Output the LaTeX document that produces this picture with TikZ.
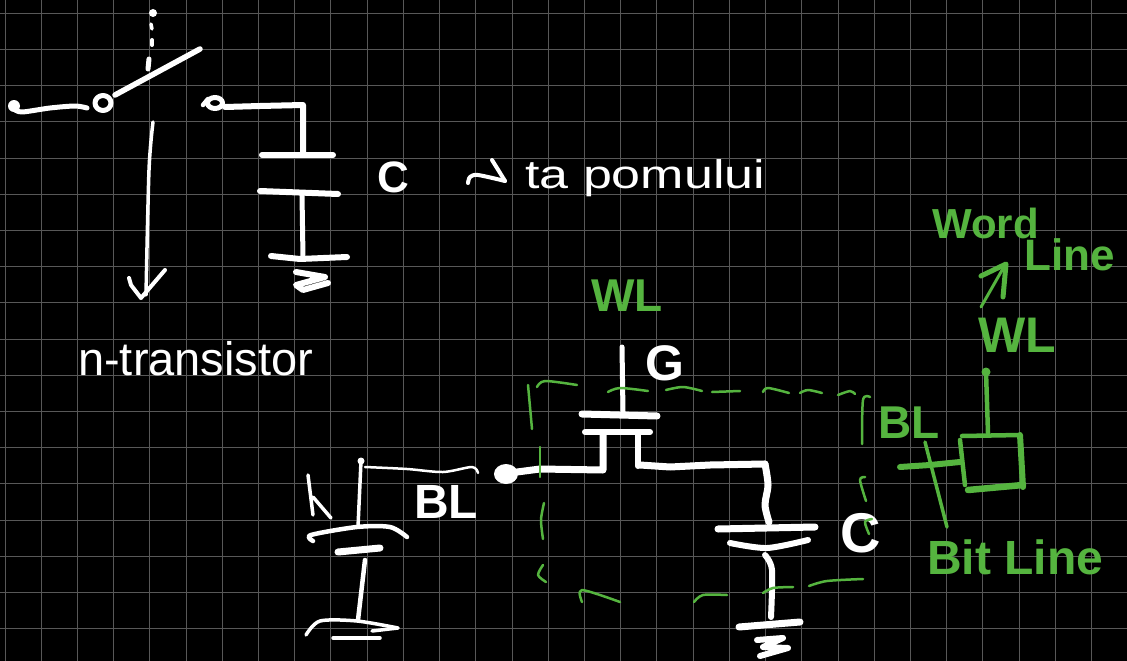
\documentclass[tikz,border=0pt]{standalone}
\usepackage{fontspec}
\setmainfont{Liberation Sans}
\definecolor{penGreen}{HTML}{55B43F}
\definecolor{gridGray}{HTML}{585858}
\tikzset{
  chalk/.style={white, line width=#1, line cap=round, line join=round},
  chalk/.default=5,
  marker/.style={penGreen, line width=#1, line cap=round, line join=round},
  marker/.default=2.5,
  chalkText/.style={white, anchor=base west, inner sep=0pt},
  markerText/.style={penGreen, anchor=base west, inner sep=0pt},
}
\newcommand{\penFont}[1]{\fontsize{#1}{#1}\selectfont}
\begin{document}
\begin{tikzpicture}[x=1pt,y=-1pt]
\useasboundingbox (0,0) rectangle (1127,661);
\fill[black] (0,0) rectangle (1127,661);

% squared paper
\foreach \i in {0,...,31}
  \draw[gridGray, line width=1] ({5+36.22*\i},0) -- ({5+36.22*\i},661);
\foreach \j in {0,...,17}
  \draw[gridGray, line width=1] (0,{13.3+36.2*\j}) -- (1127,{13.3+36.2*\j});

% switch
\fill[white] (153,13) circle (4pt);
\draw[chalk=3.5] (151,24) -- (152,29);
\draw[chalk=4] (152,40) -- (152,45);
\draw[chalk=5] (149,59) -- (148,69);
\draw[chalk=5.5] (115,95) -- (200,49);
\draw[chalk=5] (103,103) ellipse (8pt and 7.5pt);
\fill[white] (14,106) circle (6pt);
\draw[chalk=5] plot[smooth] coordinates {(14,109) (22,112) (50,108) (75,106) (87,108)};
\draw[chalk=5] (215,103) ellipse (7.5pt and 5.5pt);
\draw[chalk=4.5] (203,105) -- (208,99);
\draw[chalk=6] (225,107) -- (260,106) -- (303,105) -- (303,152);
\draw[chalk=3.5] plot[smooth] coordinates {(153,122) (149,170) (146,295)};
\draw[chalk=4] (129,278) -- (131,285) -- (141,298) -- (165,270);

% capacitor, top
\draw[chalk=6] (262,155) -- (333,155);
\draw[chalk=6] (260,191) -- (338,194);
\draw[chalk=5] (302,195) -- (303,257);
\draw[chalk=6] (271,256) -- (300,259) -- (347,257);
\draw[chalk=6] (296,272) -- (325,277) -- (296,285) -- (303,290) -- (328,283);
\node[chalkText, font=\bfseries\penFont{44}] (capTop) at (377,192) {C};

% note
\draw[chalk=4] plot[smooth] coordinates {(468,183) (470,177) (478,175) (505,181)};
\draw[chalk=4] plot[smooth] coordinates {(505,181) (497,168) (492,160)};
\node[chalkText, font=\penFont{40}, xscale=1.3, transform shape] (noteText) at (525,188) {ta pomului};
\node[chalkText, font=\penFont{47}] (transText) at (78,375) {n-transistor};

% left capacitor
\draw[chalk=3.5] (308,475) -- (313,515);
\draw[chalk=3.5] (313,497) -- (331,518);
\fill[white] (361,461) circle (3.5pt);
\draw[chalk=3.5] (361,461) -- (358,527);
\draw[chalk=2.5] plot[smooth] coordinates {(365,467) (407,469) (443,472) (472,467) (478,473)};
\draw[chalk=4.5] plot[smooth] coordinates {(313,541) (311,535) (357,527) (390,527) (407,537)};
\draw[chalk=7] (338,552) -- (380,548);
\draw[chalk=4.5] (365,560) -- (358,620);
\draw[chalk=3.5] plot[smooth] coordinates {(306,635) (320,621) (357,621) (398,628)};
\draw[chalk=3.5] (333,638) -- (380,638);
\draw[chalk=3.5] (372,631) -- (398,628);
\node[chalkText, font=\bfseries\penFont{48}] (blLeft) at (414,518) {BL};

% transistor
\fill[white] (506,474) ellipse (12pt and 10pt);
\draw[chalk=7] (517,472) -- (540,469) -- (603,470) -- (603,433);
\draw[chalk=5] (622,347) -- (623,412);
\draw[chalk=7] (582,414) -- (657,416);
\draw[chalk=6] (585,432) -- (650,432);
\draw[chalk=6] (638,433) -- (638,466);
\draw[chalk=7] (640,465) -- (670,467) -- (710,465) -- (765,464);
\draw[chalk=7] plot[smooth] coordinates {(765,464) (768,485) (765,505) (769,522)};
\node[chalkText, font=\bfseries\penFont{50}] (gateText) at (645,380) {G};

% capacitor, bottom
\draw[chalk=7] (718,529) -- (815,527);
\draw[chalk=6] plot[smooth] coordinates {(730,543) (767,548) (808,540)};
\draw[chalk=6] plot[smooth] coordinates {(765,555) (772,570) (771,617)};
\draw[chalk=7] (739,627) -- (800,622);
\draw[chalk=6] (757,640) -- (783,638) -- (763,647) -- (788,648) -- (760,656);
\node[chalkText, font=\bfseries\penFont{56}] (capBottom) at (840,552) {C};

% cell outline
\draw[marker] (528,385) -- (532,429);
\draw[marker] plot[smooth] coordinates {(537,387) (545,381) (577,385)};
\draw[marker] (540,447) -- (540,477);
\draw[marker] plot[smooth] coordinates {(544,503) (541,520) (543,539)};
\draw[marker] plot[smooth] coordinates {(543,565) (538,575) (546,582)};
\draw[marker] plot[smooth] coordinates {(582,602) (582,590) (620,602)};
\draw[marker] plot[smooth] coordinates {(608,392) (620,388) (648,391)};
\draw[marker] plot[smooth] coordinates {(666,390) (683,387) (702,391)};
\draw[marker] (712,392) -- (740,391);
\draw[marker] plot[smooth] coordinates {(763,392) (768,388) (789,393)};
\draw[marker] plot[smooth] coordinates {(800,393) (808,390) (822,393)};
\draw[marker] plot[smooth] coordinates {(838,395) (850,391) (855,394)};
\draw[marker] plot[smooth] coordinates {(870,397) (863,400) (862,444)};
\draw[marker] plot[smooth] coordinates {(865,477) (860,480) (866,501)};
\draw[marker] plot[smooth] coordinates {(872,519) (865,522) (869,534)};
\draw[marker] plot[smooth] coordinates {(863,579) (827,581) (809,586)};
\draw[marker] plot[smooth] coordinates {(793,587) (773,588) (763,593)};
\draw[marker] plot[smooth] coordinates {(727,595) (703,595) (694,602)};

% symbol on the right
\draw[marker=4.5] (986,372) -- (988,433);
\fill[penGreen] (986,372) circle (4.5pt);
\draw[marker=4.5] (962,436) -- (1020,435);
\draw[marker=6] (1020,435) -- (1023,487);
\draw[marker=6.5] (968,490) -- (1023,485);
\draw[marker=4.5] (960,440) -- (965,485);
\draw[marker=6] (900,467) -- (930,465) -- (960,462);
\draw[marker=3.5] (925,442) -- (947,527);
\draw[marker=3] (981,307) -- (1005,265);
\draw[marker=5] (981,276) -- (1006,264) -- (1003,297);

\node[markerText, font=\bfseries\penFont{46}] (wlGate) at (591,311) {WL};
\node[markerText, font=\bfseries\penFont{50}] (wlRight) at (978,352) {WL};
\node[markerText, font=\bfseries\penFont{46}] (blRight) at (878,438) {BL};
\node[markerText, font=\bfseries\penFont{42}] (wordText) at (932,238) {Word};
\node[markerText, font=\bfseries\penFont{44}] (lineText) at (1024,270) {Line};
\node[markerText, font=\bfseries\penFont{48}] (bitText) at (927,574) {Bit Line};
\end{tikzpicture}
\end{document}
